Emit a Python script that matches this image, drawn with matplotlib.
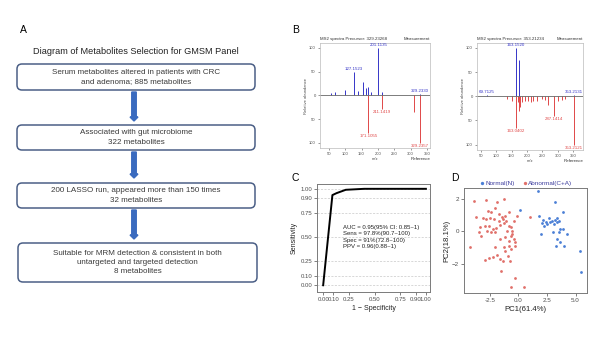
import matplotlib
matplotlib.use("Agg")
import matplotlib.pyplot as plt
from matplotlib.patches import FancyBboxPatch
from matplotlib.ticker import FuncFormatter

plt.rcParams["font.family"] = ["Liberation Sans", "DejaVu Sans"]

W, H = 605, 337

# ---------------- data ----------------
# A: selection steps
steps = [
    "Serum metabolites altered in patients with CRC\nand adenoma; 885 metabolites",
    "Associated with gut microbiome\n322 metabolites",
    "200 LASSO run, appeared more than 150 times\n32 metabolites",
    "Suitable for MRM detection & consistent in both\nuntargeted and targeted detection\n8 metabolites",
]

# B: MS2 spectra (measurement up, reference down)
spec1_title = "MS2 spectra Precursor: 329.23268"
spec1_meas_mz = [58, 70, 98, 127.1523, 139, 154, 164, 169, 179, 201.1135, 212, 329.2330]
spec1_meas_int = [5, 7, 12, 50, 8, 28, 15, 18, 6, 100, 7, 3]
spec1_ref_mz = [171.1055, 211.1419, 310, 329.2357]
spec1_ref_int = [80, 28, 36, 100]
spec1_meas_lab = [127.1523, 201.1135, 329.2330]
spec1_ref_lab = [171.1055, 211.1419, 329.2357]

spec2_title = "MS2 spectra Precursor: 353.21234"
spec2_meas_mz = [69.7125, 163.1520, 174, 353.2131]
spec2_meas_int = [2, 100, 74, 2]
spec2_ref_mz = [134, 150, 163.0402, 170, 174, 179, 185, 194, 205, 213, 221, 232,
                248, 259, 270, 287.1414, 302, 313, 324, 353.2121]
spec2_ref_int = [5, 9, 65, 12, 30, 23, 12, 10, 9, 12, 9, 10, 6, 8, 19, 40, 9, 8, 6, 100]
spec2_meas_lab = [69.7125, 163.1520, 353.2131]
spec2_ref_lab = [163.0402, 287.1414, 353.2121]

# C: ROC
roc_fpr = [0.0, 0.09, 0.13, 0.22, 0.4, 1.0]
roc_tpr = [0.0, 0.935, 0.955, 0.99, 1.0, 1.0]
roc_ticks = [0.0, 0.10, 0.25, 0.50, 0.75, 0.90, 1.00]
roc_text = ["AUC = 0.95(95% CI: 0.85~1)", "Sens = 97.8%(90.7~100)",
            "Spec = 91%(72.8~100)", "PPV = 0.96(0.88~1)"]

# D: PCA
normal_pc1 = [0.18, 1.72, 3.18, 3.88, 1.78, 2.13, 2.42, 2.71, 2.95, 3.18, 3.41, 3.59, 3.39,
              3.09, 2.80, 2.51, 2.22, 2.07, 3.68, 3.94, 4.26, 3.53, 3.01, 1.96, 3.39, 3.62,
              3.33, 3.97, 5.37, 5.49]
normal_pc2 = [1.34, 2.47, 1.83, 1.17, 0.93, 0.70, 0.60, 0.80, 0.66, 0.72, 0.80, 0.66, 0.56,
              0.45, 0.56, 0.43, 0.35, 0.52, 0.15, 0.15, -0.16, -0.06, -0.06, -0.16, -0.47,
              -0.68, -0.88, -0.93, -1.23, -2.53]
abn_pc1 = [-3.90, -2.83, -1.28, -1.86, -3.70, -2.65, -2.36, -2.01, -1.66, -1.43, -1.13, -0.84,
           -0.11, -3.12, -2.83, -2.45, -2.15, -1.72, -1.37, -1.08, -3.32, -2.94, -2.59, -2.24,
           -1.92, -1.57, -1.28, -0.84, -0.61, -0.55, -0.55, -3.47, -2.74, -2.36, -2.01, -3.23,
           -0.61, -0.41, -1.13, -1.57, -0.84, -0.32, -0.26, -4.20, -0.84, -1.28, -2.01, -0.61,
           -1.13, -0.90, -1.57, -2.24, -2.59, -2.94, -1.86, -1.34, -0.70, -1.48, -0.26, -0.61,
           0.53, 1.05, -0.41, -0.99]
abn_pc2 = [1.85, 1.96, 2.00, 1.79, 0.91, 1.28, 1.17, 1.42, 1.07, 0.87, 0.97, 1.17, 0.97, 0.83,
           0.76, 0.80, 0.76, 0.66, 0.76, 0.66, 0.25, 0.31, 0.35, 0.15, 0.19, 0.39, 0.52, 0.35,
           0.25, 0.04, -0.16, -0.02, 0.04, -0.06, -0.02, -0.27, -0.27, -0.47, -0.37, -0.47,
           -0.57, -0.68, -0.88, -0.99, -0.88, -0.99, -0.99, -1.09, -1.19, -1.50, -1.71, -1.60,
           -1.66, -1.75, -1.46, -1.81, -1.81, -2.43, -2.88, -3.45, -3.45, 0.91, 0.66, 0.04]

BLUE_MS = "#3535c8"
RED_MS = "#e04848"
GRAY_TXT = "#4d4d4d"

fig = plt.figure(figsize=(W / 100, H / 100), dpi=100)

# background axes in pixel units for panel A and panel letters
bg = fig.add_axes([0, 0, 1, 1])
bg.set_xlim(0, W)
bg.set_ylim(H, 0)
bg.axis("off")


def px_axes(l, t, r, b):
    return fig.add_axes([l / W, 1 - b / H, (r - l) / W, (b - t) / H])


# =============== A. FLOW DIAGRAM ===============
bg.text(20, 30, "A", fontsize=7.5, ha="left", va="center")
bg.text(136, 52, "Diagram of Metabolites Selection for GMSM Panel", fontsize=6.6,
        ha="center", va="center", color="#222222")

boxes = [(17, 64, 255, 90), (17, 125, 255, 150), (17, 183, 255, 208), (18, 243, 257, 282)]
for (l, t, r, b), txt in zip(boxes, steps):
    bg.add_patch(FancyBboxPatch((l, t), r - l, b - t,
                                boxstyle="round,pad=0,rounding_size=5",
                                fc="white", ec="#4b5f86", lw=1.1))
    bg.text((l + r) / 2, (t + b) / 2, txt, fontsize=5.8, ha="center", va="center",
            color="#3a3a3a", linespacing=1.45)

for y0, y1 in [(92, 121), (152, 178), (210, 239)]:
    bg.arrow(134, y0, 0, y1 - y0, width=4.5, head_width=8, head_length=4,
             length_includes_head=True, fc="#3a6bbf", ec="#3a6bbf")

# =============== B. MS2 SPECTRA ===============
bg.text(292, 30, "B", fontsize=7.5, ha="left", va="center")


def draw_spectrum(ax, title, meas_mz, meas_int, ref_mz, ref_int, meas_lab, ref_lab, xlim):
    ax.vlines(meas_mz, 0, meas_int, color=BLUE_MS, lw=0.7)
    ax.vlines(ref_mz, 0, [-v for v in ref_int], color=RED_MS, lw=0.7)
    ax.axhline(0, color="#666666", lw=0.6)
    mh = dict(zip(meas_mz, meas_int))
    rh = dict(zip(ref_mz, ref_int))
    for mz in meas_lab:
        ax.text(mz, mh[mz] + 2, f"{mz:.4f}", color=BLUE_MS, fontsize=3.2,
                ha="center", va="bottom")
    for mz in ref_lab:
        ax.text(mz, -rh[mz] - 2, f"{mz:.4f}", color=RED_MS, fontsize=3.2,
                ha="center", va="top")
    ax.set_xlim(*xlim)
    ax.set_ylim(-111, 110)
    ax.set_xticks([50, 100, 150, 200, 250, 300, 350])
    ax.set_yticks([-100, -50, 0, 50, 100])
    ax.yaxis.set_major_formatter(FuncFormatter(lambda v, p: f"{abs(v):.0f}"))
    ax.tick_params(labelsize=3, length=1.5, width=0.4, pad=1.5, colors=GRAY_TXT)
    for s in ax.spines.values():
        s.set_color("#bbbbbb")
        s.set_linewidth(0.5)
    ax.set_xlabel("m/z", fontsize=3, labelpad=0.5, color=GRAY_TXT)
    ax.set_ylabel("Relative abundance", fontsize=3, labelpad=1, color=GRAY_TXT)
    ax.text(0, 1.015, title, transform=ax.transAxes, fontsize=3.2, ha="left",
            va="bottom", color="#333333")
    ax.text(1, 1.015, "Measurement", transform=ax.transAxes, fontsize=3.2, ha="right",
            va="bottom", color="#333333")
    ax.text(1, -0.085, "Reference", transform=ax.transAxes, fontsize=3.2, ha="right",
            va="top", color="#333333")


ax1 = px_axes(320, 43, 430, 148)
draw_spectrum(ax1, spec1_title, spec1_meas_mz, spec1_meas_int, spec1_ref_mz, spec1_ref_int,
              spec1_meas_lab, spec1_ref_lab, (23, 359))
ax2 = px_axes(477, 43, 583, 150)
draw_spectrum(ax2, spec2_title, spec2_meas_mz, spec2_meas_int, spec2_ref_mz, spec2_ref_int,
              spec2_meas_lab, spec2_ref_lab, (38, 382))

# =============== C. ROC ===============
bg.text(292, 178, "C", fontsize=7.5, ha="left", va="center")
axc = px_axes(317, 184, 430, 292)
for t in roc_ticks:
    axc.axhline(t, color="#c8c8c8", lw=0.5, ls=(0, (3, 2)), zorder=0)
axc.plot(roc_fpr, roc_tpr, color="black", lw=1.4)
axc.set_xlim(-0.06, 1.04)
axc.set_ylim(-0.07, 1.05)
axc.set_xticks(roc_ticks)
axc.set_yticks(roc_ticks)
axc.set_xticklabels([f"{t:.2f}" for t in roc_ticks])
axc.set_yticklabels([f"{t:.2f}" for t in roc_ticks])
axc.tick_params(labelsize=4.3, length=2, width=0.5, pad=1.5, colors=GRAY_TXT)
for s in axc.spines.values():
    s.set_color("#7a7a7a")
    s.set_linewidth(0.7)
axc.set_xlabel("1 \u2212 Specificity", fontsize=5, labelpad=2, color="#222222")
axc.set_ylabel("Sensitivity", fontsize=5, labelpad=2, color="#222222")
axc.text(0.19, 0.50, "\n".join(roc_text), fontsize=4.3, ha="left", va="center",
         linespacing=1.3, color="#222222")

# =============== D. PCA ===============
bg.text(451, 178, "D", fontsize=7.5, ha="left", va="center")
axd = px_axes(464, 188, 587, 293)
axd.scatter(normal_pc1, normal_pc2, s=4, color="#4a7fd6", lw=0, label="Normal(N)")
axd.scatter(abn_pc1, abn_pc2, s=4, color="#e0706a", lw=0, label="Abnormal(C+A)")
axd.set_xlim(-4.75, 6.0)
axd.set_ylim(-3.8, 2.68)
axd.set_xticks([-2.5, 0, 2.5, 5.0])
axd.set_xticklabels(["-2.5", "0.0", "2.5", "5.0"])
axd.set_yticks([-2, 0, 2])
axd.tick_params(labelsize=4.5, length=2, width=0.5, pad=1.5, colors=GRAY_TXT)
for s in axd.spines.values():
    s.set_color("#7a7a7a")
    s.set_linewidth(0.7)
axd.set_xlabel("PC1(61.4%)", fontsize=5.6, labelpad=2, color="#222222")
axd.set_ylabel("PC2(18.1%)", fontsize=5.6, labelpad=1, color="#222222")
leg = axd.legend(loc="lower center", bbox_to_anchor=(0.5, 0.995), ncol=2, frameon=False,
                 fontsize=4.6, handletextpad=0.1, columnspacing=1.0, borderaxespad=0,
                 markerscale=1.2, handlelength=1.0)
for t in leg.get_texts():
    t.set_color("#3d3d9e")

fig.savefig("out.png", dpi=100)
